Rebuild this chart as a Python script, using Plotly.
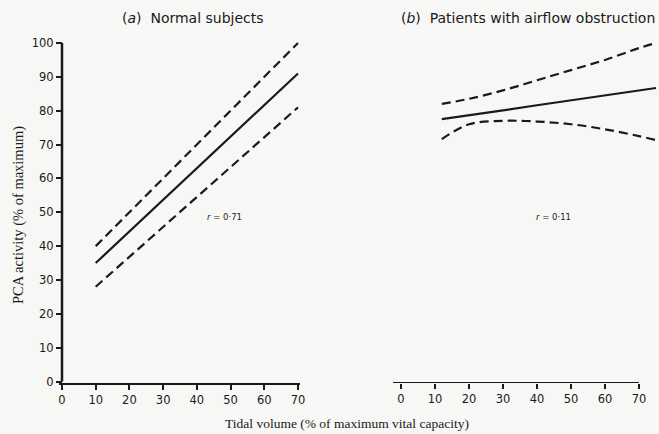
import plotly.graph_objects as go

W, H = 659, 434

# ---- data ----
a_x = [10, 70]
a_fit = [35, 91]
a_upper = [40, 100]
a_lower = [28, 81]

b_x = [12, 20, 30, 40, 50, 60, 70, 75]
b_fit = [77.5, 78.6, 80.1, 81.6, 83.1, 84.5, 86.0, 86.7]
b_upper = [82, 83.5, 86, 89, 92, 95, 98.5, 100]
b_lower = [71.6, 76, 77, 76.8, 76, 74.5, 72.5, 71.3]

x_ticks = [0, 10, 20, 30, 40, 50, 60, 70]
y_ticks = [0, 10, 20, 30, 40, 50, 60, 70, 80, 90, 100]

r_a = "<i>r</i> = 0·71"
r_b = "<i>r</i> = 0·11"
title_a = "(<i>a</i>)  Normal subjects"
title_b = "(<i>b</i>)  Patients with airflow obstruction"
y_title = "PCA activity (% of maximum)"
x_title = "Tidal volume (% of maximum vital capacity)"

# ---- layout helpers (pixel -> paper) ----
def px(v):
    return v / W

def py(v):
    return 1 - v / H

ink = "#1a1a1a"
bg = "#f7f7f5"
sans = "DejaVu Sans, Verdana, sans-serif"
serif = "Liberation Serif, Times New Roman, serif"

fig = go.Figure()

line_solid = dict(color=ink, width=2.2)
line_dash = dict(color=ink, width=2.2, dash="9px,5px")

fig.add_trace(go.Scatter(x=a_x, y=a_upper, mode="lines", line=line_dash, xaxis="x", yaxis="y"))
fig.add_trace(go.Scatter(x=a_x, y=a_fit, mode="lines", line=line_solid, xaxis="x", yaxis="y"))
fig.add_trace(go.Scatter(x=a_x, y=a_lower, mode="lines", line=line_dash, xaxis="x", yaxis="y"))

fig.add_trace(go.Scatter(x=b_x, y=b_upper, mode="lines", line=dict(line_dash, shape="spline"), xaxis="x2", yaxis="y2"))
fig.add_trace(go.Scatter(x=b_x, y=b_fit, mode="lines", line=line_solid, xaxis="x2", yaxis="y2"))
fig.add_trace(go.Scatter(x=b_x, y=b_lower, mode="lines", line=dict(line_dash, shape="spline"), xaxis="x2", yaxis="y2"))

# pixel geometry
ax_x0, ax_per = 62.0, 236.0 / 70   # left panel x: 0 at 62 px
bx_x0, bx_per = 401.0, 238.0 / 70  # right panel x: 0 at 401 px
y0_px, y_per = 381.5, 338.5 / 100  # y: 0 at 381.5 px

l_dom = (59, 300)
r_dom = (393, 659)
y_dom = (39, 383)  # top, bottom px

xa_range = [(l_dom[0] - ax_x0) / ax_per, (l_dom[1] - ax_x0) / ax_per]
xb_range = [(r_dom[0] - bx_x0) / bx_per, (r_dom[1] - bx_x0) / bx_per]
y_range = [(y0_px - y_dom[1]) / y_per, (y0_px - y_dom[0]) / y_per]

tick_font = dict(family=sans, size=11.5, color=ink)

common_x = dict(
    tickmode="array", tickvals=x_ticks, ticktext=[str(t) for t in x_ticks],
    ticks="outside", ticklen=5, tickwidth=2, tickcolor=ink,
    showgrid=False, zeroline=False, tickfont=tick_font, automargin=False,
    fixedrange=True,
)

fig.update_layout(
    width=W, height=H,
    margin=dict(l=0, r=0, t=0, b=0),
    paper_bgcolor=bg, plot_bgcolor=bg,
    showlegend=False,
    xaxis=dict(common_x, domain=[px(l_dom[0]), px(l_dom[1])], range=xa_range,
               showline=True, linecolor=ink, linewidth=2, anchor="y"),
    yaxis=dict(domain=[py(y_dom[1]), py(y_dom[0])], range=y_range,
               tickmode="array", tickvals=y_ticks, ticktext=[str(t) for t in y_ticks],
               ticks="outside", ticklen=6, tickwidth=2, tickcolor=ink,
               showline=False, showgrid=False, zeroline=False,
               tickfont=tick_font, automargin=False, anchor="free", position=px(ax_x0),
               fixedrange=True),
    xaxis2=dict(common_x, domain=[px(r_dom[0]), px(r_dom[1])], range=xb_range,
                showline=False, anchor="y2"),
    yaxis2=dict(domain=[py(y_dom[1]), py(y_dom[0])], range=y_range, visible=False,
                anchor="x2", fixedrange=True),
)

# axis lines drawn to match the reference extents
fig.add_shape(type="line", xref="paper", yref="y", x0=px(ax_x0), x1=px(ax_x0), y0=0, y1=100,
              line=dict(color=ink, width=2.5))
fig.add_shape(type="line", xref="x2", yref="y2", x0=xb_range[0], x1=70, y0=y_range[0], y1=y_range[0],
              line=dict(color=ink, width=2))

def note(text, x, y, font, angle=0):
    return dict(text=text, x=px(x), y=py(y), xref="paper", yref="paper", showarrow=False,
                xanchor="center", yanchor="middle", textangle=angle, font=font)

ann = [
    note(title_a, 193, 18, dict(family=sans, size=14, color=ink)),
    note(title_b, 528, 18, dict(family=sans, size=14, color=ink)),
    note(r_a, 224, 217, dict(family=sans, size=8.5, color=ink)),
    note(r_b, 553, 217, dict(family=sans, size=8.5, color=ink)),
    note(y_title, 18, 215, dict(family=serif, size=14.5, color=ink), angle=-90),
    note(x_title, 347, 423, dict(family=serif, size=13.5, color=ink)),
]
fig.update_layout(annotations=ann)

fig.write_html("out.html", config={"displayModeBar": False},
               post_script="document.body.style.margin='0';document.body.style.overflow='hidden';")
